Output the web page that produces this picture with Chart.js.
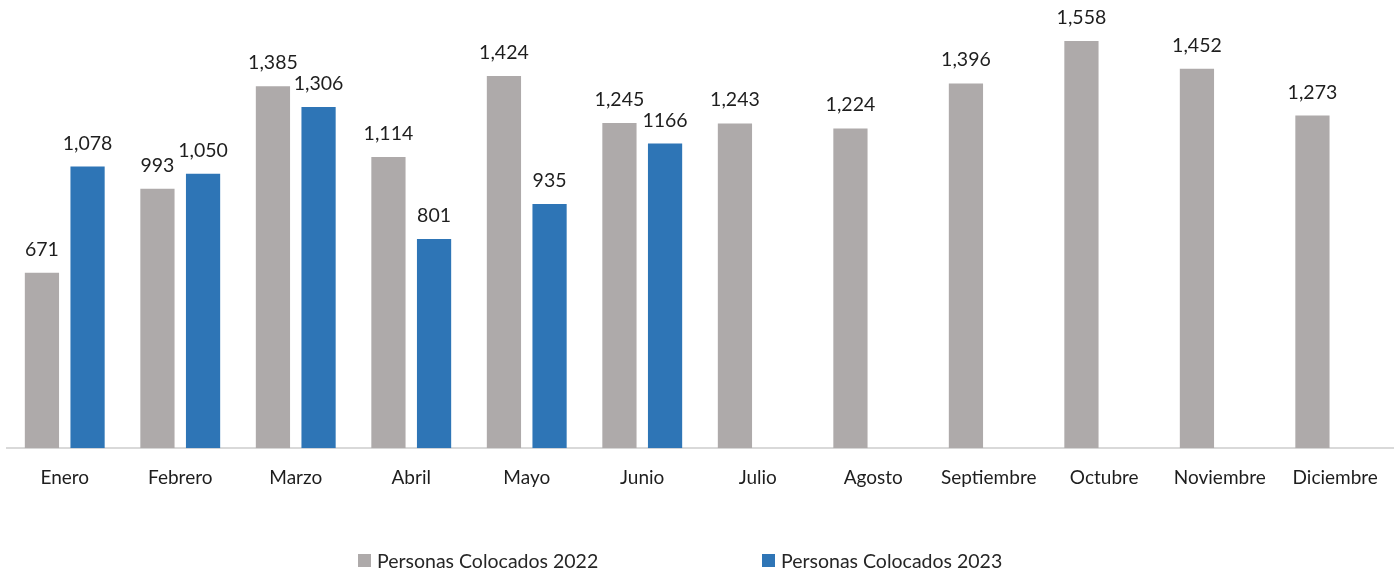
<!DOCTYPE html>
<html>
<head>
<meta charset="utf-8">
<script src="https://cdn.jsdelivr.net/npm/chart.js@4.4.0/dist/chart.umd.min.js"></script>
<style>
  body { margin: 0; background: #fff; }
  #wrap { position: relative; width: 1400px; height: 573px; }
  .leg { position: absolute; top: 549px; font: 19.5px Lato, sans-serif; color: #262626; display: flex; align-items: center; }
  .leg span.box { width: 13px; height: 13px; margin-right: 6px; display: inline-block; }
</style>
</head>
<body>
<div id="wrap">
  <canvas id="chart" width="1400" height="573"></canvas>
  <div class="leg" style="left:358px"><span class="box" style="background:#AEAAAA"></span>Personas Colocados 2022</div>
  <div class="leg" style="left:762px"><span class="box" style="background:#2E75B6"></span>Personas Colocados 2023</div>
</div>
<script>
const months = ['Enero','Febrero','Marzo','Abril','Mayo','Junio','Julio','Agosto','Septiembre','Octubre','Noviembre','Diciembre'];
const colocados2022 = [671, 993, 1385, 1114, 1424, 1245, 1243, 1224, 1396, 1558, 1452, 1273];
const colocados2023 = [1078, 1050, 1306, 801, 935, 1166, null, null, null, null, null, null];
const etiquetas2022 = ['671','993','1,385','1,114','1,424','1,245','1,243','1,224','1,396','1,558','1,452','1,273'];
const etiquetas2023 = ['1,078','1,050','1,306','801','935','1166'];

// draws the value labels above each bar
const valueLabels = {
    id: 'valueLabels',
    afterDatasetsDraw(chart){
        const ctx = chart.ctx;
        const textos = [etiquetas2022, etiquetas2023];
        ctx.save();
        ctx.font = '19.5px Lato';
        ctx.fillStyle = '#1e1e1e';
        ctx.textAlign = 'center';
        ctx.textBaseline = 'alphabetic';
        chart.data.datasets.forEach((ds, i) => {
            chart.getDatasetMeta(i).data.forEach((bar, j) => {
                if (ds.data[j] == null) return;
                ctx.fillText(textos[i][j], bar.x, bar.y - 17);
            });
        });
        ctx.restore();
    }
};

new Chart(document.getElementById('chart'), {
    type: 'bar',
    data: {
        labels: months,
        datasets: [
            { label: 'Personas Colocados 2022', data: colocados2022, backgroundColor: '#AEAAAA' },
            { label: 'Personas Colocados 2023', data: colocados2023, backgroundColor: '#2E75B6' }
        ]
    },
    options: {
        responsive: false,
        animation: false,
        categoryPercentage: 0.79,
        barPercentage: 0.75,
        layout: { padding: { top: 4, left: 7, right: 7, bottom: 66 } },
        plugins: {
            legend: { display: false },
            tooltip: { enabled: false }
        },
        scales: {
            x: {
                grid: { display: false, drawTicks: false },
                border: { display: true, color: '#D9D9D9', width: 2 },
                ticks: { color: '#1e1e1e', font: { family: 'Lato', size: 19 }, padding: 18, maxRotation: 0, autoSkip: false }
            },
            y: {
                display: false,
                min: 0,
                max: 1700
            }
        }
    },
    plugins: [valueLabels]
});
</script>
</body>
</html>
